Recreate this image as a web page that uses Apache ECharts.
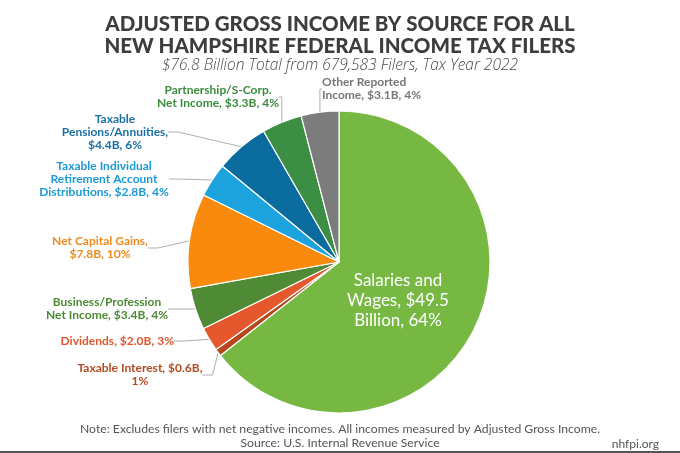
<!DOCTYPE html>
<html>
<head>
<meta charset="UTF-8">
<script src="https://cdn.jsdelivr.net/npm/echarts@6/dist/echarts.min.js"></script>
<title>AGI by source, New Hampshire</title>
<style>
  html, body { margin: 0; padding: 0; background: #fff; }
  #chart { width: 680px; height: 453px; }
</style>
</head>
<body>
<div id="chart"></div>
<script>
// values in billions of dollars, clockwise from 12 o'clock
var names = ['Salaries and Wages', 'Taxable Interest', 'Dividends', 'Business/Profession Net Income',
	'Net Capital Gains', 'Taxable Individual Retirement Account Distributions',
	'Taxable Pensions/Annuities', 'Partnership/S-Corp. Net Income', 'Other Reported Income'];
var values = [49.5, 0.6, 2.0, 3.4, 7.8, 2.8, 4.4, 3.3, 3.1];
var shares = [64, 1, 3, 4, 10, 4, 6, 4, 4];
var labelText = [
	'Salaries and\nWages, $49.5\nBillion, 64%',
	'Taxable Interest, $0.6B,\n1%',
	'Dividends, $2.0B, 3%',
	'Business/Profession\nNet Income, $3.4B, 4%',
	'Net Capital Gains,\n$7.8B, 10%',
	'Taxable Individual\nRetirement Account\nDistributions, $2.8B, 4%',
	'Taxable\nPensions/Annuities,\n$4.4B, 6%',
	'Partnership/S-Corp.\nNet Income, $3.3B, 4%',
	'Other Reported\nIncome, $3.1B, 4%'
];

var sliceColors = ['#77b843', '#b8461c', '#e5582d', '#4f8a35', '#f98a0c', '#1ca3dd', '#0a6b9f', '#3b8e43', '#7c7c7c'];
var textColors  = ['#ffffff', '#b34a22', '#e0562e', '#4c8a34', '#f08a1e', '#1b9ad6', '#1a6fa3', '#3c8c3f', '#777777'];
// where each label sits: x, y, align
var spots = [
	[398, 301, 'center'],
	[140, 375, 'center'],
	[174, 341, 'right'],
	[107, 309, 'center'],
	[100, 248, 'center'],
	[104, 179, 'center'],
	[115, 132, 'center'],
	[218, 97, 'center'],
	[322, 89, 'left']
];

var chart = echarts.init(document.getElementById('chart'));

var pieData = [];
for (var i = 0; i < values.length; i++) {
	var item = {
		name: names[i],
		value: values[i],
		itemStyle: { color: sliceColors[i] },
		label: { color: textColors[i] }
	};
	if (i == 0) {
		item.label = { color: '#fff', fontSize: 17, lineHeight: 20, fontWeight: 'normal' };
		item.labelLine = { show: false };
	}
	pieData.push(item);
}

var option = {
	animation: false,
	title: [{
		text: 'ADJUSTED GROSS INCOME BY SOURCE FOR ALL\nNEW HAMPSHIRE FEDERAL INCOME TAX FILERS',
		left: 'center', top: 8,
		textStyle: { fontFamily: 'Lato', fontWeight: 900, fontSize: 20.5, lineHeight: 22, color: '#3d3d3d' }
	}, {
		text: '$76.8 Billion Total from 679,583 Filers, Tax Year 2022',
		left: 'center', top: 53,
		textStyle: { fontFamily: 'Open Sans', fontStyle: 'italic', fontWeight: 300, fontSize: 15.5, color: '#4a4a4a' }
	}, {
		text: 'Note: Excludes filers with net negative incomes. All incomes measured by Adjusted Gross Income.\nSource: U.S. Internal Revenue Service',
		left: 'center', top: 417,
		textStyle: { fontFamily: 'Lato', fontWeight: 'normal', fontSize: 12.2, lineHeight: 14, color: '#555', align: 'center' }
	}, {
		text: 'nhfpi.org',
		right: 16, top: 433,
		textStyle: { fontFamily: 'Lato', fontWeight: 'normal', fontSize: 12, color: '#555' }
	}],
	series: [{
		type: 'pie',
		center: [339, 262],
		radius: 151,
		startAngle: 90,
		clockwise: true,
		avoidLabelOverlap: false,
		itemStyle: { borderColor: '#fff', borderWidth: 1.2 },
		label: {
			show: true,
			formatter: function (p) { return labelText[p.dataIndex]; },
			fontFamily: 'Lato',
			fontWeight: 'bold',
			fontSize: 12,
			lineHeight: 13
		},
		labelLine: {
			show: true,
			length: 10,
			length2: 10,
			lineStyle: { color: '#b0b0b0', width: 1 }
		},
		labelLayout: function (p) {
			var s = spots[p.dataIndex];
			return { x: s[0], y: s[1], align: s[2], verticalAlign: 'middle' };
		},
		data: pieData
	}],
	graphic: [{
		type: 'rect',
		shape: { x: 0, y: 451, width: 680, height: 2 },
		style: { fill: '#555' }
	}]
};
chart.setOption(option);
</script>
</body>
</html>
